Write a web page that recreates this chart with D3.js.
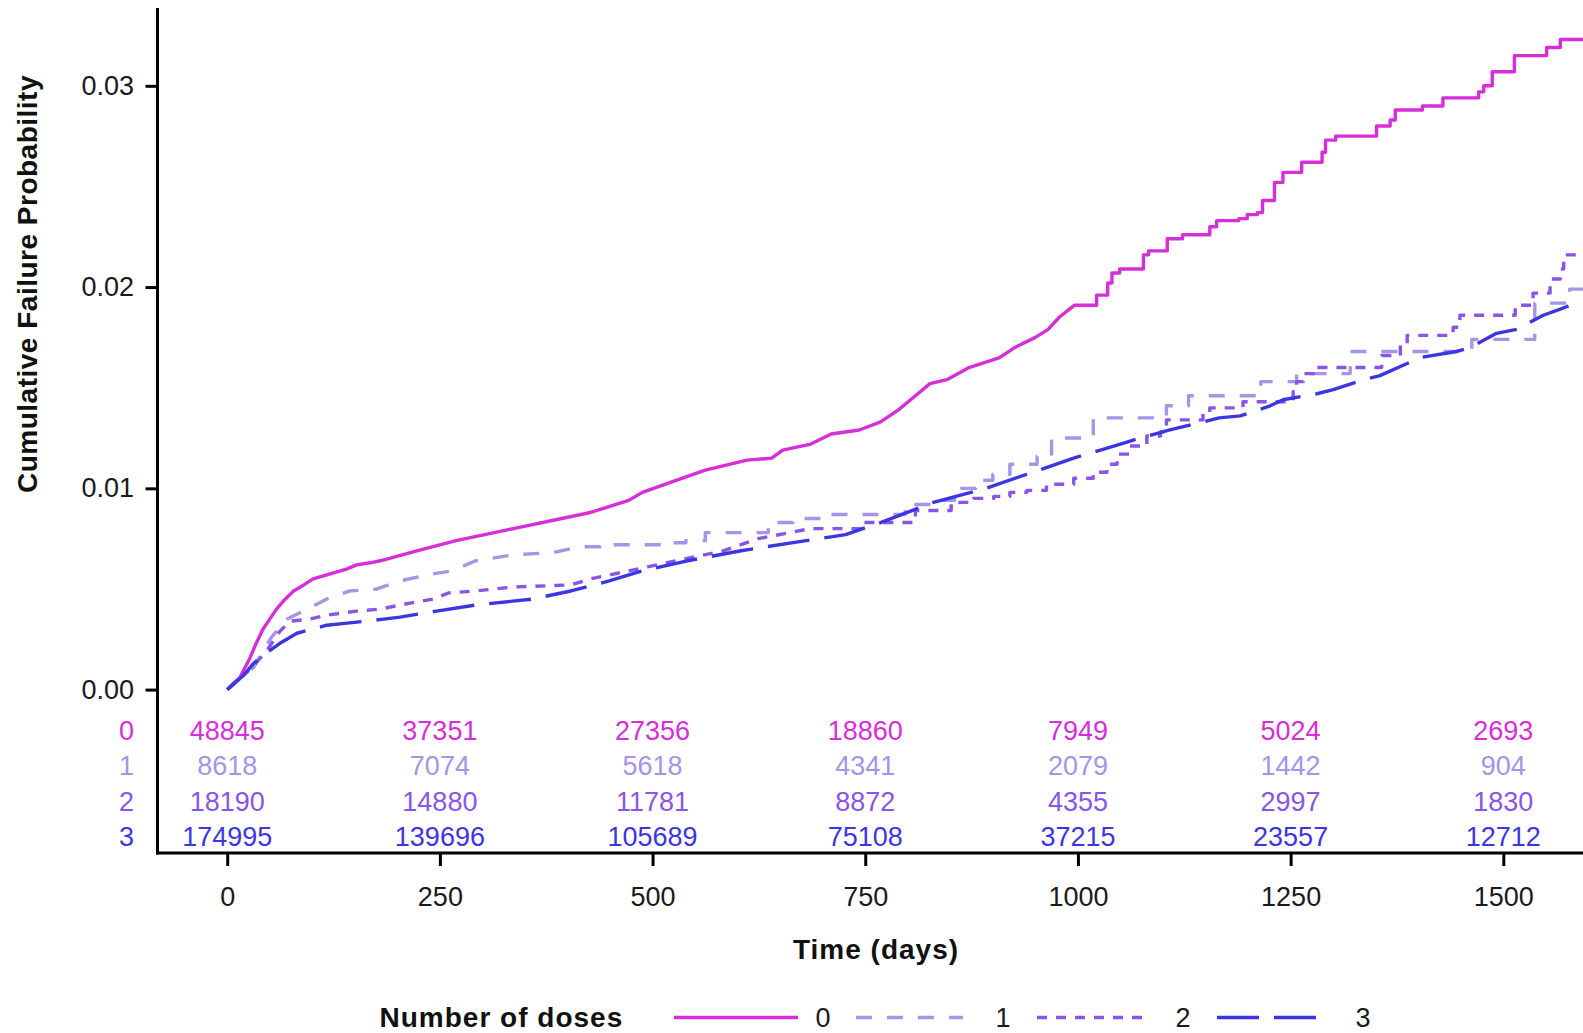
<!DOCTYPE html>
<html>
<head>
<meta charset="utf-8">
<script src="https://cdn.jsdelivr.net/npm/d3@7"></script>
<style>
  html, body { margin: 0; padding: 0; background: #fff; }
  svg { display: block; font-family: "Liberation Sans", Arial, Helvetica, sans-serif; }
</style>
</head>
<body>
<div id="chart"></div>
<script>
// cumulative failure (1 - KM) by number of doses

const groups = ['0', '1', '2', '3'];
const group_colors = ['#d62fd8', '#a594e8', '#8a55e6', '#3c36e2'];
const group_dashes = [null, '16,15', '10,9', '42,15'];

const time_ticks = [0, 250, 500, 750, 1000, 1250, 1500];
const prob_ticks = [0, 0.01, 0.02, 0.03];

// numbers at risk, one row per group, one value per time tick
const at_risk_0 = [48845, 37351, 27356, 18860, 7949, 5024, 2693];
const at_risk_1 = [8618, 7074, 5618, 4341, 2079, 1442, 904];
const at_risk_2 = [18190, 14880, 11781, 8872, 4355, 2997, 1830];
const at_risk_3 = [174995, 139696, 105689, 75108, 37215, 23557, 12712];

// [days, cumulative failure probability]
const doses_0 = [
  [0, 0], [7, 0.0003], [15, 0.0006], [21, 0.0011], [27, 0.0016], [33, 0.0022], [42, 0.0030],
  [50, 0.0035], [58, 0.0040], [66, 0.0044], [78, 0.0049], [90, 0.0052], [101, 0.0055],
  [125, 0.0058], [141, 0.0060], [152, 0.0062], [168, 0.0063], [180, 0.0064], [224, 0.0069],
  [269, 0.0074], [314, 0.0078], [359, 0.0082], [382, 0.0084], [427, 0.0088], [472, 0.0094],
  [488, 0.0098], [521, 0.0103], [562, 0.0109], [611, 0.0114], [640, 0.0115], [653, 0.0119],
  [686, 0.0122], [710, 0.0127], [743, 0.0129], [768, 0.0133], [789, 0.0139], [809, 0.0146],
  [826, 0.0152], [846, 0.0154], [872, 0.0160], [908, 0.0165], [926, 0.0170], [950, 0.0175],
  [965, 0.0179], [978, 0.0185], [996, 0.0191], [1022, 0.0196], [1035, 0.0202], [1040, 0.0207],
  [1049, 0.0209], [1077, 0.0216], [1083, 0.0218], [1105, 0.0224], [1123, 0.0226], [1155, 0.0230],
  [1163, 0.0233], [1189, 0.0234], [1199, 0.0236], [1211, 0.0237], [1217, 0.0243], [1231, 0.0252],
  [1241, 0.0257], [1263, 0.0262], [1287, 0.0267], [1291, 0.0273], [1303, 0.0275], [1351, 0.0280],
  [1367, 0.0283], [1373, 0.0288], [1405, 0.0290], [1429, 0.0294], [1471, 0.0297], [1477, 0.0300],
  [1487, 0.0307], [1513, 0.0315], [1551, 0.0319], [1567, 0.0323]
];
const doses_1 = [
  [0, 0], [31, 0.0011], [52, 0.0026], [70, 0.0035], [94, 0.0040], [117, 0.0045], [144, 0.0049],
  [176, 0.0050], [203, 0.0054], [235, 0.0057], [265, 0.0059], [292, 0.0064], [337, 0.0067],
  [382, 0.0068], [415, 0.0071], [438, 0.0072], [521, 0.0073], [539, 0.0074], [562, 0.0078],
  [636, 0.0083], [665, 0.0085], [702, 0.0087], [797, 0.0092], [830, 0.0094], [855, 0.0100],
  [880, 0.0104], [900, 0.0107], [920, 0.0112], [952, 0.0116], [969, 0.0125], [1018, 0.0135],
  [1104, 0.0141], [1130, 0.0146], [1215, 0.0153], [1257, 0.0157], [1320, 0.0168], [1463, 0.0174],
  [1537, 0.0192], [1578, 0.0199]
];
const doses_2 = [
  [0, 0], [27, 0.0010], [46, 0.0019], [62, 0.0029], [74, 0.0034], [97, 0.0035], [117, 0.0037],
  [152, 0.0039], [180, 0.0040], [215, 0.0043], [242, 0.0045], [260, 0.0048], [292, 0.0049],
  [337, 0.0051], [404, 0.0052], [427, 0.0055], [472, 0.0059], [539, 0.0065], [584, 0.0069],
  [624, 0.0075], [686, 0.0080], [748, 0.0083], [809, 0.0089], [851, 0.0093], [877, 0.0095],
  [901, 0.0096], [920, 0.0098], [940, 0.0099], [963, 0.0102], [995, 0.0105], [1018, 0.0108],
  [1034, 0.0112], [1046, 0.0117], [1061, 0.0121], [1081, 0.0126], [1097, 0.0128], [1104, 0.0134],
  [1147, 0.0137], [1155, 0.0140], [1194, 0.0143], [1253, 0.0148], [1257, 0.0153], [1265, 0.0157],
  [1277, 0.0160], [1357, 0.0166], [1379, 0.0172], [1387, 0.0176], [1441, 0.0180], [1449, 0.0186],
  [1514, 0.0191], [1535, 0.0197], [1555, 0.0204], [1567, 0.0209], [1571, 0.0216]
];
const doses_3 = [
  [0, 0], [19, 0.0007], [31, 0.0013], [42, 0.0017], [62, 0.0023], [82, 0.0028], [117, 0.0032],
  [141, 0.0033], [184, 0.0035], [203, 0.0036], [246, 0.0039], [292, 0.0042], [359, 0.0045],
  [404, 0.0049], [449, 0.0054], [488, 0.0059], [541, 0.0064], [604, 0.0069], [665, 0.0073],
  [727, 0.0077], [768, 0.0083], [830, 0.0093], [892, 0.0100], [940, 0.0107], [995, 0.0115],
  [1050, 0.0122], [1073, 0.0125], [1108, 0.0129], [1166, 0.0135], [1191, 0.0136], [1226, 0.0141],
  [1241, 0.0144], [1281, 0.0147], [1300, 0.0149], [1336, 0.0154], [1355, 0.0156], [1387, 0.0162],
  [1402, 0.0165], [1445, 0.0168], [1461, 0.0170], [1492, 0.0177], [1516, 0.0179], [1547, 0.0186],
  [1567, 0.0189], [1579, 0.0191]
];

const curves = [doses_0, doses_1, doses_2, doses_3];
const at_risk = [at_risk_0, at_risk_1, at_risk_2, at_risk_3];

// where each curve stops looking smooth and its steps become visible
const smooth_until = [1000, 430, 700, 1700];

const width = 1583, height = 1033;
const axis_x = 157.5;      // left edge of the panel
const axis_y = 853;        // bottom of the panel (below the risk table)
const panel_top = 8;
const font_size = 27;
const title_size = 28;

const svg = d3.select('#chart').append('svg')
  .attr('width', width)
  .attr('height', height);

const x = d3.scaleLinear()
  .domain([0, 1500])
  .range([227.2, 1503.3]);

const y = d3.scaleLinear()
  .domain([0, 0.03])
  .range([689.6, 85.8]);

const t_end = x.invert(width + 5);

// dense early parts read as a smooth line, sparse late parts as steps
function stepPoints(pts, cut){
  const out = [pts[0]];
  for(let i = 1; i < pts.length; i++){
    if(pts[i][0] > cut) out.push([pts[i][0], pts[i - 1][1]]);
    out.push(pts[i]);
  }
  out.push([t_end, pts[pts.length - 1][1]]);
  return out;
}

const line = d3.line()
  .x(d => x(d[0]))
  .y(d => y(d[1]));

svg.append('g')
  .attr('class', 'curves')
  .selectAll('path')
  .data(curves)
  .join('path')
  .attr('d', (d, i) => line(stepPoints(d, smooth_until[i])))
  .attr('fill', 'none')
  .attr('stroke', (d, i) => group_colors[i])
  .attr('stroke-width', 3.4)
  .attr('stroke-dasharray', (d, i) => group_dashes[i])
  .attr('stroke-linejoin', 'round');

// axes: ticks from d3, panel lines drawn by hand
const y_axis = svg.append('g')
  .attr('transform', `translate(${axis_x},0)`)
  .call(d3.axisLeft(y).tickValues(prob_ticks).tickFormat(d3.format('.2f'))
    .tickSize(12).tickPadding(11.5));

const x_axis = svg.append('g')
  .attr('transform', `translate(0,${axis_y})`)
  .call(d3.axisBottom(x).tickValues(time_ticks).tickFormat(d3.format('d'))
    .tickSize(13).tickPadding(21));

[y_axis, x_axis].forEach(g => {
  g.select('.domain').remove();
  g.selectAll('.tick line').attr('stroke', '#000').attr('stroke-width', 3);
  g.selectAll('.tick text')
    .attr('fill', '#1a1a1a')
    .style('font-size', font_size + 'px')
    .style('font-family', '"Liberation Sans", Arial, sans-serif');
});

svg.append('line')
  .attr('x1', axis_x).attr('x2', axis_x)
  .attr('y1', panel_top).attr('y2', axis_y + 1.5)
  .attr('stroke', '#000').attr('stroke-width', 3);

svg.append('line')
  .attr('x1', axis_x - 1.5).attr('x2', width)
  .attr('y1', axis_y).attr('y2', axis_y)
  .attr('stroke', '#000').attr('stroke-width', 3);

// numbers at risk table
const row_y = i => 739.5 + i * 35.5;

const rows = svg.append('g')
  .attr('class', 'risk_table')
  .selectAll('g')
  .data(at_risk)
  .join('g')
  .attr('fill', (d, i) => group_colors[i])
  .style('font-size', font_size + 'px');

rows.append('text')
  .attr('x', 134)
  .attr('y', (d, i) => row_y(i))
  .attr('text-anchor', 'end')
  .text((d, i) => groups[i]);

rows.each(function(vals, i) {
  d3.select(this).selectAll('text.n')
    .data(vals)
    .join('text')
    .attr('class', 'n')
    .attr('x', (d, j) => x(time_ticks[j]))
    .attr('y', row_y(i))
    .attr('text-anchor', 'middle')
    .text(d => d);
});

// axis titles
svg.append('text')
  .attr('x', 876)
  .attr('y', 959)
  .attr('text-anchor', 'middle')
  .style('font-size', title_size + 'px')
  .style('font-weight', 'bold')
  .style('letter-spacing', '1px')
  .attr('fill', '#111')
  .text('Time (days)');

svg.append('text')
  .attr('transform', 'translate(37,284) rotate(-90)')
  .attr('text-anchor', 'middle')
  .style('font-size', title_size + 'px')
  .style('font-weight', 'bold')
  .style('letter-spacing', '0.5px')
  .attr('fill', '#111')
  .text('Cumulative Failure Probability');

// legend
const legend_y = 1017.5;
const legend_text_y = 1026.5;

svg.append('text')
  .attr('x', 379.5)
  .attr('y', legend_text_y)
  .style('font-size', title_size + 'px')
  .style('font-weight', 'bold')
  .style('letter-spacing', '1px')
  .attr('fill', '#111')
  .text('Number of doses');

const legend_keys = [
  {x1: 674, x2: 798, tx: 823},
  {x1: 856, x2: 963, tx: 1003},
  {x1: 1037, x2: 1151, tx: 1183},
  {x1: 1217, x2: 1323, tx: 1363}
];

const legend = svg.append('g')
  .attr('class', 'legend')
  .selectAll('g')
  .data(groups)
  .join('g');

legend.append('line')
  .attr('x1', (d, i) => legend_keys[i].x1)
  .attr('x2', (d, i) => legend_keys[i].x2)
  .attr('y1', legend_y)
  .attr('y2', legend_y)
  .attr('stroke', (d, i) => group_colors[i])
  .attr('stroke-width', 3.5)
  .attr('stroke-dasharray', (d, i) => group_dashes[i]);

legend.append('text')
  .attr('x', (d, i) => legend_keys[i].tx)
  .attr('y', legend_text_y)
  .attr('text-anchor', 'middle')
  .style('font-size', font_size + 'px')
  .attr('fill', '#1a1a1a')
  .text(d => d);
</script>
</body>
</html>
